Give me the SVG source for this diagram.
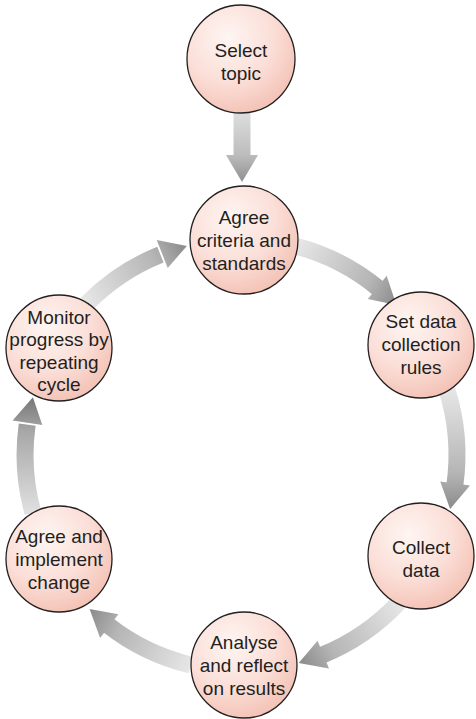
<svg xmlns="http://www.w3.org/2000/svg" width="476" height="719" viewBox="0 0 476 719">
<defs>
<radialGradient id="nodeFill" cx="0.38" cy="0.3" r="0.75">
<stop offset="0" stop-color="#fef5f2"/>
<stop offset="0.55" stop-color="#fbdfd8"/>
<stop offset="1" stop-color="#f3c0b3"/>
</radialGradient>
<linearGradient id="g1" gradientUnits="userSpaceOnUse" x1="242" y1="112" x2="242" y2="183"><stop offset="0" stop-color="#dedede"/><stop offset="0.6" stop-color="#bdbdbd"/><stop offset="1" stop-color="#8e8e8e"/></linearGradient>
<linearGradient id="g2" gradientUnits="userSpaceOnUse" x1="296.9" y1="246.4" x2="396.4" y2="305"><stop offset="0" stop-color="#e6e6e6"/><stop offset="0.7" stop-color="#b5b5b5"/><stop offset="1" stop-color="#8a8a8a"/></linearGradient>
<linearGradient id="g3" gradientUnits="userSpaceOnUse" x1="447" y1="390" x2="450.1" y2="509.1"><stop offset="0" stop-color="#e6e6e6"/><stop offset="0.7" stop-color="#b5b5b5"/><stop offset="1" stop-color="#8a8a8a"/></linearGradient>
<linearGradient id="g4" gradientUnits="userSpaceOnUse" x1="399" y1="602.3" x2="298.7" y2="663.1"><stop offset="0" stop-color="#e6e6e6"/><stop offset="0.7" stop-color="#b5b5b5"/><stop offset="1" stop-color="#8a8a8a"/></linearGradient>
<linearGradient id="g5" gradientUnits="userSpaceOnUse" x1="190.6" y1="665" x2="89.6" y2="609.1"><stop offset="0" stop-color="#e6e6e6"/><stop offset="0.7" stop-color="#b5b5b5"/><stop offset="1" stop-color="#8a8a8a"/></linearGradient>
<linearGradient id="g6" gradientUnits="userSpaceOnUse" x1="32.9" y1="512.7" x2="32.9" y2="397.3"><stop offset="0" stop-color="#e0e0e0"/><stop offset="0.7" stop-color="#a8a8a8"/><stop offset="1" stop-color="#767676"/></linearGradient>
<linearGradient id="g7" gradientUnits="userSpaceOnUse" x1="86.9" y1="303.6" x2="186.9" y2="245.9"><stop offset="0" stop-color="#e6e6e6"/><stop offset="0.7" stop-color="#b5b5b5"/><stop offset="1" stop-color="#8a8a8a"/></linearGradient>
</defs>
<style>
.node circle { fill: url(#nodeFill); stroke: #231f20; stroke-width: 1.3; }
.node text { font-family: "Liberation Sans", Arial, sans-serif; font-size: 19px; fill: #231f20; text-anchor: middle; }
.shaft { fill: none; stroke-width: 17; }
</style>
<g id="connectors">
<g id="a1"><path class="shaft" d="M242 108 L242 157" stroke="url(#g1)"/><polygon points="226,155 258,155 242,182" fill="url(#g1)"/></g>
<g id="a2"><path class="shaft" d="M296.9 246.4 A216 216 0 0 1 378.7 288.6" stroke="url(#g2)"/><polygon points="367.8,299.1 386.7,275.8 396.4,305" fill="url(#g2)"/></g>
<g id="a3"><path class="shaft" d="M447 390 A216 216 0 0 1 454.8 485.4" stroke="url(#g3)"/><polygon points="440.2,481.6 470,485.6 450.1,509.1" fill="url(#g3)"/></g>
<g id="a4"><path class="shaft" d="M399 602.3 A216 216 0 0 1 321.6 655.4" stroke="url(#g4)"/><polygon points="317.6,640.8 329,668.6 298.7,663.1" fill="url(#g4)"/></g>
<g id="a5"><path class="shaft" d="M190.6 665 A216 216 0 0 1 107.8 625" stroke="url(#g5)"/><polygon points="118.4,614.3 100.1,638.1 89.6,609.1" fill="url(#g5)"/></g>
<g id="a6"><path class="shaft" d="M32.9 512.7 A216 216 0 0 1 27.2 424.6" stroke="url(#g6)"/><polygon points="42.3,424.9 12.6,420.5 32.9,397.3" fill="url(#g6)"/></g>
<g id="a7"><path class="shaft" d="M86.9 303.6 A216 216 0 0 1 160.4 254.6" stroke="url(#g7)"/><polygon points="167.7,267.9 156.7,239.9 186.9,245.9" fill="url(#g7)"/></g>
</g>
<g id="n-select" class="node"><circle cx="241" cy="59" r="54"/><text x="241" y="57">Select</text><text x="241" y="80">topic</text></g>
<g id="n-agree-criteria" class="node"><circle cx="244" cy="240" r="54"/><text x="244" y="223.5">Agree</text><text x="244" y="246.5">criteria and</text><text x="244" y="269.5">standards</text></g>
<g id="n-set-data" class="node"><circle cx="421" cy="345" r="53"/><text x="421" y="328">Set data</text><text x="421" y="351">collection</text><text x="421" y="374">rules</text></g>
<g id="n-collect" class="node"><circle cx="421" cy="556" r="53"/><text x="421" y="554">Collect</text><text x="421" y="577">data</text></g>
<g id="n-analyse" class="node"><circle cx="244" cy="665" r="53"/><text x="244" y="648.5">Analyse</text><text x="244" y="671.5">and reflect</text><text x="244" y="694.5">on results</text></g>
<g id="n-agree-implement" class="node"><circle cx="59" cy="559" r="53"/><text x="59" y="542.5">Agree and</text><text x="59" y="565.5">implement</text><text x="59" y="588.5">change</text></g>
<g id="n-monitor" class="node"><circle cx="59" cy="348" r="53"/><text x="59" y="323.5">Monitor</text><text x="59" y="346">progress by</text><text x="59" y="368.5">repeating</text><text x="59" y="391">cycle</text></g>
</svg>
